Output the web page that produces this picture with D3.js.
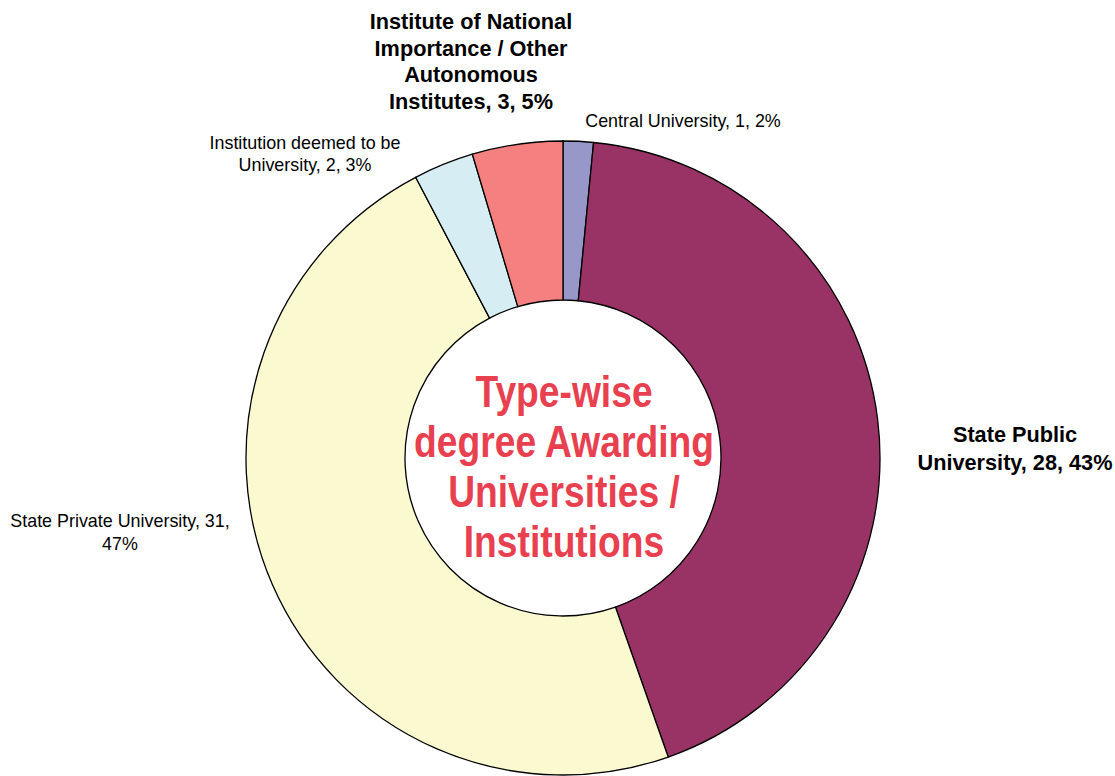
<!DOCTYPE html>
<html><head><meta charset="utf-8">
<script src="https://cdn.jsdelivr.net/npm/d3@7"></script>
<style>html,body{margin:0;padding:0;background:#fff;}svg{display:block;}</style>
</head><body>
<svg id="chart" width="1115" height="776"></svg>
<script>
const categories = ["Central University","State Public University","State Private University","Institution deemed to be University","Institute of National Importance / Other Autonomous Institutes"];
const values = [1, 28, 31, 2, 3];
const percents = ["2%","43%","47%","3%","5%"];
const colors = ["#9797C9","#993366","#FAF9D0","#D6EDF3","#F48080"];
const labelLines = [
  ["Central University, 1, 2%"],
  ["State Public","University, 28, 43%"],
  ["State Private University, 31,","47%"],
  ["Institution deemed to be","University, 2, 3%"],
  ["Institute of National","Importance / Other","Autonomous","Institutes, 3, 5%"]
];
const centerTitle = ["Type-wise","degree Awarding","Universities /","Institutions"];

const svg = d3.select("#chart");
const cx = 563, cy = 458, R = 317, r = 158;
const data = categories.map((c,i)=>({name:c,value:values[i],color:colors[i],lines:labelLines[i]}));
const pie = d3.pie().sort(null).value(d=>d.value);
const arc = d3.arc().innerRadius(r).outerRadius(R);
const g = svg.append("g").attr("transform",`translate(${cx},${cy})`);
g.selectAll("path").data(pie(data)).join("path")
  .attr("d",arc).attr("fill",d=>d.data.color)
  .attr("stroke","#000").attr("stroke-width",1.3);

// label positions (anchor centers, baselines of first line)
const labelPos = [
  {x:683,y:127,size:17.9,bold:false,lh:22},
  {x:1015,y:442,size:21.7,bold:true,lh:27.5},
  {x:120,y:526.5,size:17.9,bold:false,lh:23},
  {x:305,y:148.5,size:17.9,bold:false,lh:22},
  {x:471,y:29,size:21.7,bold:true,lh:26.6}
];
data.forEach((d,i)=>{
  const p = labelPos[i];
  const t = svg.append("text").attr("text-anchor","middle")
    .attr("font-family","'Liberation Sans', Arial, sans-serif")
    .attr("font-size",p.size).attr("font-weight",p.bold?"bold":"normal")
    .attr("fill","#000");
  d.lines.forEach((l,j)=>t.append("tspan").attr("x",p.x).attr("y",p.y+j*p.lh).text(l));
});

// center title
const tg = svg.append("g");
const tt = tg.append("text").attr("text-anchor","middle")
  .attr("font-family","'Liberation Sans', Arial, sans-serif")
  .attr("font-size",45).attr("font-weight","bold").attr("fill","#E8404F");
centerTitle.forEach((l,j)=>tt.append("tspan").attr("x",0).attr("y",407+j*50).text(l));
// condense horizontally so widest line fits ~300px
const tmp = tg.append("text").attr("font-family","'Liberation Sans', Arial, sans-serif")
  .attr("font-size",45).attr("font-weight","bold").text(centerTitle[1]);
const w = tmp.node().getComputedTextLength();
tmp.remove();
const sx = 300 / w;
tg.attr("transform",`translate(${cx+1},0) scale(${sx},1)`);
</script>
</body></html>
